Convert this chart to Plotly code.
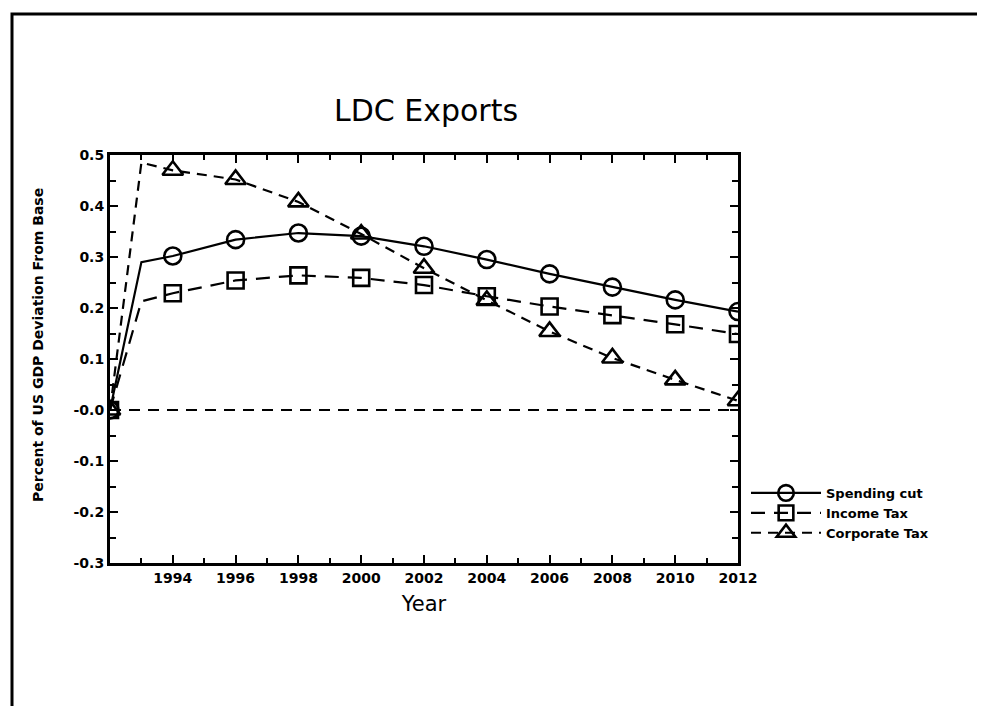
import plotly.graph_objects as go

# data (1993 is only a line vertex, no marker there)
years = [1992, 1993, 1994, 1996, 1998, 2000, 2002, 2004, 2006, 2008, 2010, 2012]
spending_cut = [0.0, 0.290, 0.302, 0.334, 0.347, 0.341, 0.321, 0.295, 0.267, 0.241, 0.216, 0.193]
income_tax = [0.0, 0.213, 0.229, 0.254, 0.264, 0.259, 0.245, 0.223, 0.203, 0.186, 0.168, 0.149]
corporate_tax = [0.0, 0.485, 0.470, 0.452, 0.408, 0.345, 0.278, 0.215, 0.154, 0.102, 0.059, 0.018]

x_tick_vals = [1994, 1996, 1998, 2000, 2002, 2004, 2006, 2008, 2010, 2012]
y_tick_vals = [0.5, 0.4, 0.3, 0.2, 0.1, 0.0, -0.1, -0.2, -0.3]
y_tick_text = ["0.5", "0.4", "0.3", "0.2", "0.1", "-0.0", "-0.1", "-0.2", "-0.3"]

W, H = 985, 706
L, R, T, B = 102, 730, 147, 555  # plot area in pixels


def px_x(p):
    return (p - L) / (R - L)


def px_y(p):
    return (B - p) / (B - T)


def marker_sizes(xs, size):
    return [0 if x == 1993 else size for x in xs]


series = [
    ("Spending cut", spending_cut, "circle-open", 17, "solid"),
    ("Income Tax", income_tax, "square-open", 16, "14px,9px"),
    ("Corporate Tax", corporate_tax, "triangle-up-open", 18, "10px,7px"),
]

fig = go.Figure()
for name, vals, symbol, size, dash in series:
    fig.add_trace(
        go.Scatter(
            x=years,
            y=vals,
            mode="lines+markers",
            name=name,
            line={"color": "black", "width": 2.2, "dash": dash},
            marker={
                "symbol": symbol,
                "size": marker_sizes(years, size),
                "color": "black",
                "opacity": 1,
                "line": {"color": "black", "width": 2.6},
            },
        )
    )

fig.add_hline(y=0, line_dash="11px,8px", line_color="black", line_width=2.2)

tick_font = {"family": "DejaVu Sans", "size": 14, "color": "black", "weight": "bold"}

fig.update_xaxes(
    range=[1992, 2012],
    tickvals=x_tick_vals,
    ticks="inside",
    ticklen=8,
    tickwidth=2,
    tickcolor="black",
    minor={"dtick": 1, "ticks": "inside", "ticklen": 5, "tickwidth": 2, "tickcolor": "black"},
    showline=True,
    linewidth=3,
    linecolor="black",
    mirror="allticks",
    showgrid=False,
    zeroline=False,
    tickfont=tick_font,
    title={"text": "Year", "font": {"family": "DejaVu Sans", "size": 21, "color": "black"}, "standoff": 12},
)
fig.update_yaxes(
    range=[-0.3, 0.5],
    tickvals=y_tick_vals,
    ticktext=y_tick_text,
    ticks="inside",
    ticklen=8,
    tickwidth=2,
    tickcolor="black",
    minor={"dtick": 0.05, "ticks": "inside", "ticklen": 6, "tickwidth": 2, "tickcolor": "black"},
    showline=True,
    linewidth=3,
    linecolor="black",
    mirror="allticks",
    showgrid=False,
    zeroline=False,
    tickfont=tick_font,
)

fig.add_annotation(
    text="Percent of US GDP Deviation From Base",
    x=px_x(20),
    y=px_y(337),
    xref="paper",
    yref="paper",
    textangle=-90,
    showarrow=False,
    font={"family": "DejaVu Sans", "size": 14, "color": "black", "weight": "bold"},
)

# outer frame of the page
fig.add_shape(
    type="rect",
    xref="paper",
    yref="paper",
    x0=px_x(4),
    x1=px_x(979),
    y0=px_y(760),
    y1=px_y(6),
    line={"color": "black", "width": 3},
)

fig.update_layout(
    width=W,
    height=H,
    margin={"l": L, "r": W - R, "t": T, "b": H - B},
    paper_bgcolor="white",
    plot_bgcolor="white",
    title={
        "text": "LDC Exports",
        "x": px_x(418),
        "xref": "paper",
        "xanchor": "center",
        "y": 1 - 102 / H,
        "yref": "container",
        "yanchor": "middle",
        "font": {"family": "DejaVu Sans", "size": 30, "color": "black"},
    },
    legend={
        "x": px_x(738),
        "y": px_y(470),
        "xanchor": "left",
        "yanchor": "top",
        "bgcolor": "rgba(0,0,0,0)",
        "font": {"family": "DejaVu Sans", "size": 13, "color": "black", "weight": "bold"},
        "itemwidth": 70,
        "tracegroupgap": 0,
    },
    showlegend=True,
)

fig.write_html("out.html")
